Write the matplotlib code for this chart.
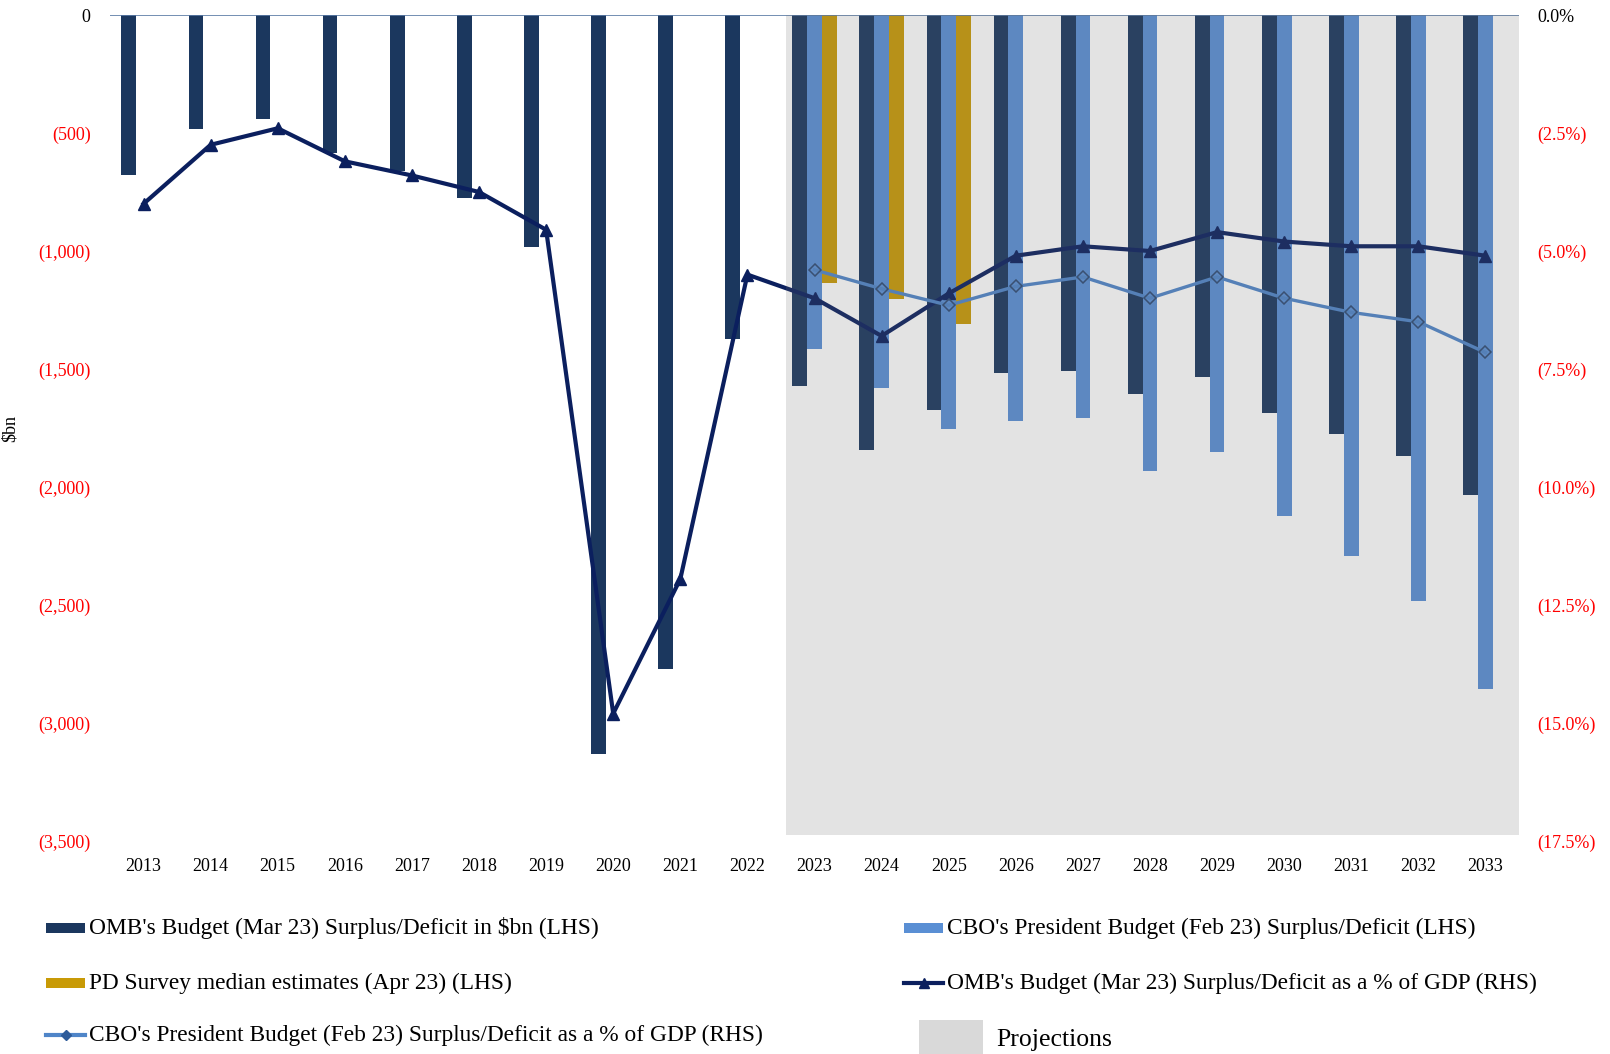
import matplotlib
matplotlib.use("Agg")
import matplotlib.pyplot as plt
from matplotlib.patches import Rectangle
from matplotlib.lines import Line2D
import numpy as np

plt.rcParams["font.family"] = ["Liberation Serif", "DejaVu Serif"]

# ---- data -------------------------------------------------------------
years = [str(y) for y in range(2013, 2034)]
omb_balance = [-680, -484, -439, -583, -663, -776, -985, -3130, -2773, -1372,
               -1571, -1845, -1674, -1518, -1507, -1604, -1535, -1685, -1777, -1867, -2035]
cbo_years = years[10:]
cbo_balance = [-1414, -1580, -1753, -1719, -1706, -1931, -1850, -2121, -2291, -2481, -2854]
pd_years = ["2023", "2024", "2025"]
pd_balance = [-1134, -1202, -1311]
omb_pct_gdp = [-4.0, -2.75, -2.4, -3.1, -3.4, -3.75, -4.55, -14.8, -11.95, -5.5,
               -6.0, -6.8, -5.9, -5.1, -4.9, -5.0, -4.6, -4.8, -4.9, -4.9, -5.1]
cbo_pct_gdp = [-5.4, -5.8, -6.15, -5.75, -5.55, -6.0, -5.55, -6.0, -6.3, -6.5, -7.15]
projection_start = "2023"

left_ticks = [0, -500, -1000, -1500, -2000, -2500, -3000, -3500]
right_ticks = [0.0, -2.5, -5.0, -7.5, -10.0, -12.5, -15.0, -17.5]

labels = {
    "omb_bar": "OMB's Budget (Mar 23) Surplus/Deficit in $bn (LHS)",
    "cbo_bar": "CBO's President Budget (Feb 23) Surplus/Deficit (LHS)",
    "pd_bar": "PD Survey median estimates (Apr 23) (LHS)",
    "omb_line": "OMB's Budget (Mar 23) Surplus/Deficit as a % of GDP (RHS)",
    "cbo_line": "CBO's President Budget (Feb 23) Surplus/Deficit as a % of GDP (RHS)",
    "proj": "Projections",
}

# ---- style -------------------------------------------------------------
C_OMB_BAR = "#1B375E"
C_CBO_BAR = "#5A8FD4"
C_PD_BAR = "#C89A06"
C_OMB_LINE = "#0B1F5E"
C_CBO_LINE = "#4F85C8"
C_DIAMOND_EDGE = "#2E4A73"
RED = "#FF0000"

W, H = 1610, 1054
fig = plt.figure(figsize=(W / 100, H / 100), dpi=100)
ax_l, ax_r, ax_t, ax_b = 110, 1519, 15, 841
ax = fig.add_axes([ax_l / W, 1 - ax_b / H, (ax_r - ax_l) / W, (ax_b - ax_t) / H])
ax2 = ax.twinx()

pos = {y: i for i, y in enumerate(years)}
x_all = np.arange(len(years))
x_cbo = np.array([pos[y] for y in cbo_years])
x_pd = np.array([pos[y] for y in pd_years])
bw = 0.22

ax.bar(x_all - bw, omb_balance, width=bw, color=C_OMB_BAR, zorder=2)
ax.bar(x_cbo, cbo_balance, width=bw, color=C_CBO_BAR, zorder=2)
ax.bar(x_pd + bw, pd_balance, width=bw, color=C_PD_BAR, zorder=2)
ax.axhline(0, color="#5B7BA6", lw=1.2, zorder=3)

ax.set_xlim(-0.5, len(years) - 0.5)
ax.set_ylim(left_ticks[-1], 0)
ax2.set_ylim(right_ticks[-1], 0)

ax2.plot(x_all, omb_pct_gdp, color=C_OMB_LINE, lw=3.0, marker="^", ms=8,
         mfc=C_OMB_LINE, mec=C_OMB_LINE, zorder=5)
ax2.plot(x_cbo, cbo_pct_gdp, color=C_CBO_LINE, lw=2.4, marker="D", ms=6,
         mfc="none", mec=C_DIAMOND_EDGE, mew=1.1, zorder=5)

# projections band: translucent layer over the forecast years
p0 = pos[projection_start] - 0.42
ax2.axvspan(p0, len(years) - 0.5, ymin=6 / (ax_b - ax_t), ymax=1,
            color="#6F6F6F", alpha=0.19, lw=0, zorder=10)

# ---- axes & ticks -----------------------------------------------------
for a in (ax, ax2):
    for s in a.spines.values():
        s.set_visible(False)
    a.tick_params(length=0)

ax.set_xticks(x_all, years, fontsize=13)
ax.tick_params(axis="x", pad=12.5)


def fmt_bn(v):
    return "0" if v == 0 else "({:,.0f})".format(abs(v))


def fmt_pct(v):
    return "0.0%" if v == 0 else "({:.1f}%)".format(abs(v))


ax.set_yticks(left_ticks, [fmt_bn(v) for v in left_ticks], fontsize=13)
ax.tick_params(axis="y", pad=14)
for t, v in zip(ax.get_yticklabels(), left_ticks):
    t.set_color("black" if v == 0 else RED)

ax2.set_yticks(right_ticks, [fmt_pct(v) for v in right_ticks], fontsize=13)
ax2.tick_params(axis="y", pad=13)
for t, v in zip(ax2.get_yticklabels(), right_ticks):
    t.set_color("black" if v == 0 else RED)

ax.set_ylabel("$bn", fontsize=13)
ax.yaxis.set_label_coords((18.5 - ax_l) / (ax_r - ax_l), 0.5)

# ---- legend (pixel layout on an overlay axes) -----------------------
lg = fig.add_axes([0, 0, 1, 1], zorder=20)
lg.set_xlim(0, W)
lg.set_ylim(H, 0)
lg.axis("off")
LFS = 16.8


def bar_entry(x, y, color, text):
    lg.add_patch(Rectangle((x, y - 5), 39, 10, color=color, lw=0))
    lg.text(x + 43, y, text, fontsize=LFS, va="center", ha="left")


def line_entry(x, y, color, marker, mfc, ms, text):
    lg.add_line(Line2D([x, x + 39], [y, y], color=color, lw=3))
    lg.add_line(Line2D([x + 20], [y], marker=marker, ms=ms, color=mfc, mec=mfc))
    lg.text(x + 43, y, text, fontsize=LFS, va="center", ha="left")


bar_entry(46, 928, C_OMB_BAR, labels["omb_bar"])
bar_entry(904, 928, C_CBO_BAR, labels["cbo_bar"])
bar_entry(46, 983, C_PD_BAR, labels["pd_bar"])
line_entry(904, 983, C_OMB_LINE, "^", C_OMB_LINE, 7, labels["omb_line"])
line_entry(46, 1035, C_CBO_LINE, "D", "#2D5B9A", 5.5, labels["cbo_line"])
lg.add_patch(Rectangle((919, 1020), 64, 34, color="#D9D9D9", lw=0))
lg.text(996, 1040, labels["proj"], fontsize=18.5, va="center", ha="left")

fig.savefig("out.png", dpi=100)
